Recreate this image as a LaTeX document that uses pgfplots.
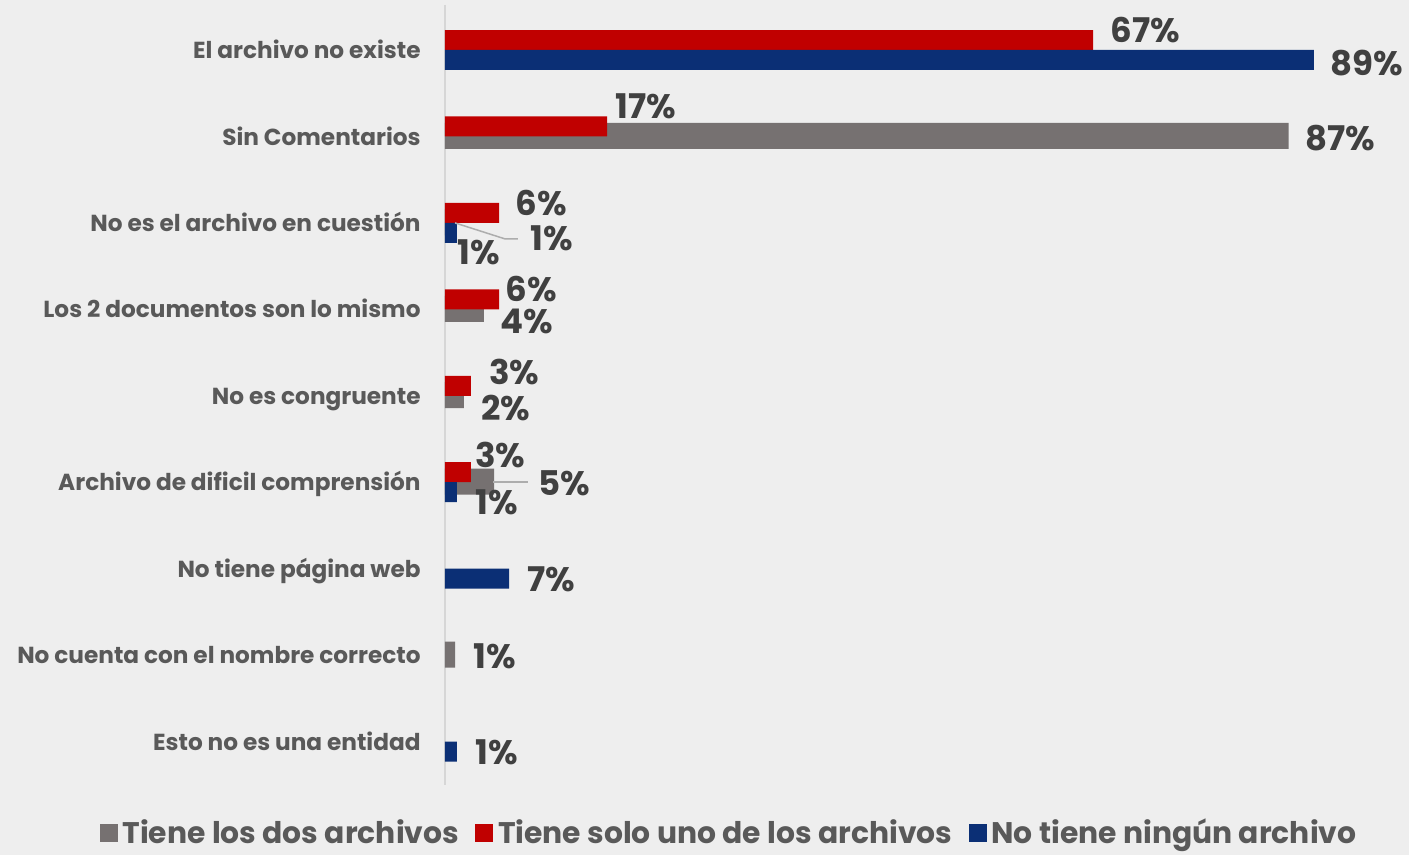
\documentclass[border=0pt]{standalone}
\usepackage{pgfplots}
\pgfplotsset{compat=1.18}
\usepackage{pgfplotstable}
\usepackage{fontspec}
\setmainfont{Poppins}
\definecolor{bg}{HTML}{EEEEEE}
\definecolor{cgray}{HTML}{767171}
\definecolor{cred}{HTML}{C00000}
\definecolor{cblue}{HTML}{0B2F75}
\definecolor{txt}{HTML}{595959}
\definecolor{lbl}{HTML}{404040}
\definecolor{axgray}{HTML}{D6D6D6}
\definecolor{leader}{HTML}{ADADAD}

% y = category (0 = top), x = value in %, dx/dy = label offsets in pt
\pgfplotstableread{
y x dx dy
1 86.7 8 -0.5
2 1.03 37.5 -7.25
3 4.0 8 -6
4 1.95 8.5 -5.75
5 5.04 22 -0.5
7 1.03 9 -0.5
}\graytab
\pgfplotstableread{
y x dx dy
0 66.6 8.5 10.25
1 16.65 4 15.25
2 5.55 8 10.25
3 5.55 3 10.25
4 2.67 9 12.25
5 2.67 2 13.75
}\redtab
\pgfplotstableread{
y x dx dy
0 89.3 8 -6.25
2 1.23 0 -14.25
5 1.23 9 -9.75
6 6.58 9 -5.25
8 1.23 9 -5.25
}\bluetab

\pgfplotsset{
  lbls/.style={
    point meta=x,
    visualization depends on={\thisrow{dx}\as\dx},
    visualization depends on={\thisrow{dy}\as\dy},
    nodes near coords={\pgfmathprintnumber[fixed,precision=0]{\pgfplotspointmeta}\%},
    every node near coord/.append style={anchor=west, inner sep=0pt,
      font=\fontsize{17}{17}\selectfont\bfseries, text=lbl,
      xshift=\dx pt, yshift=\dy pt},
  }
}

\begin{document}
\begin{tikzpicture}
\fill[bg] (0,0) rectangle (704.5pt,427.5pt);
\begin{axis}[
  at={(222.5pt,35pt)}, anchor=south west,
  scale only axis, width=482pt, height=390pt,
  xmin=0, xmax=99.07, ymin=-0.526, ymax=8.497, y dir=reverse,
  axis x line=none, axis y line=left,
  y axis line style={draw=axgray, line width=1pt, -},
  xtick=\empty, ytick={0,...,8},
  yticklabels={El archivo no existe, Sin Comentarios, No es el archivo en cuestión,
    Los 2 documentos son lo mismo, No es congruente, Archivo de dificil comprensión,
    No tiene página web, No cuenta con el nombre correcto, Esto no es una entidad},
  major tick length=0pt,
  yticklabel style={font=\fontsize{11.6}{13}\selectfont\bfseries, text=txt,
    inner sep=0pt, xshift=-12pt, anchor=east, text height=8.2pt, text depth=0pt},
  clip=false,
  /pgf/number format/assume math mode=true,
  legend style={at={(0.2946,-0.0615)}, anchor=center, draw=none, fill=none,
    legend columns=3, font=\fontsize{14.9}{15}\selectfont\bfseries, text=txt,
    inner sep=0pt, nodes={inner sep=1pt},
    /tikz/every even column/.append style={column sep=7pt},
    /tikz/every odd column/.append style={column sep=1.5pt}},
  legend image code/.code={\fill[#1] (0pt,-4.5pt) rectangle (9pt,4.5pt);},
]
\addplot[xbar, draw=none, fill=cgray, bar width=0.301, bar shift=-0.012, lbls]
  table[x=x, y=y] {\graytab};
\addlegendentry{Tiene los dos archivos}
\addplot[xbar, draw=none, fill=cred, bar width=0.231, bar shift=-0.121, lbls]
  table[x=x, y=y] {\redtab};
\addlegendentry{Tiene solo uno de los archivos}
\addplot[xbar, draw=none, fill=cblue, bar width=0.231, bar shift=0.110, lbls]
  table[x=x, y=y] {\bluetab};
\addlegendentry{No tiene ningún archivo}
% leader lines
\addplot[forget plot, draw=leader, line width=0.75pt, mark=none]
  coordinates {(1.03,1.995) (6.17,2.18) (7.5,2.18)};
\addplot[forget plot, draw=leader, line width=0.75pt, mark=none]
  coordinates {(4.93,4.99) (8.53,4.99)};
\end{axis}
\pgfresetboundingbox
\useasboundingbox (0,0) rectangle (704.5pt,427.5pt);
\end{tikzpicture}
\end{document}
